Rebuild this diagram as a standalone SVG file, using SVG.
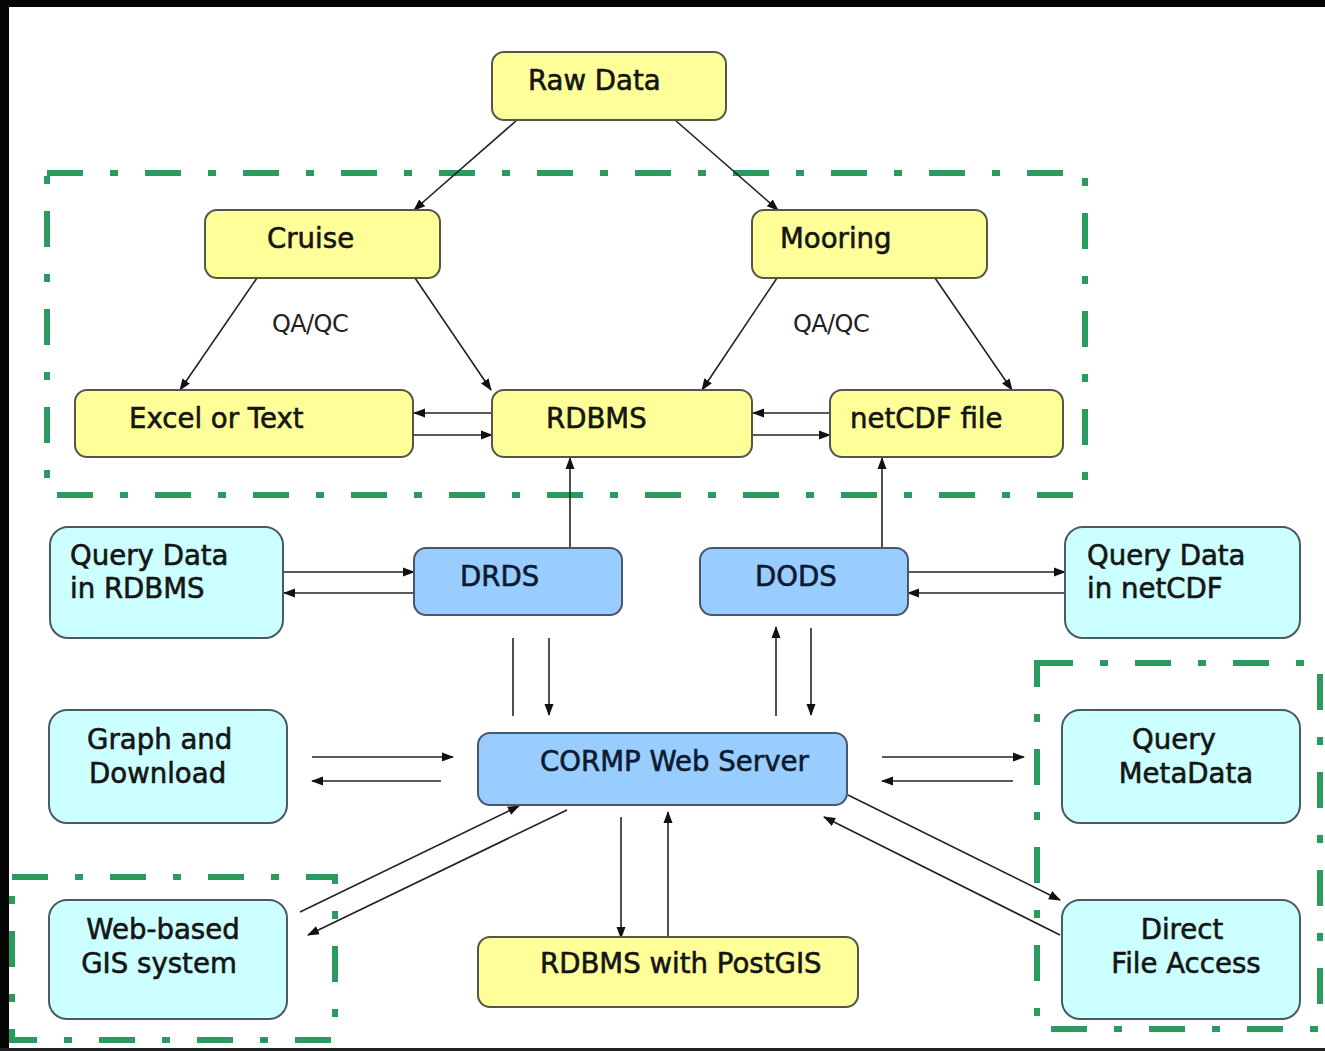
<svg xmlns="http://www.w3.org/2000/svg" width="1325" height="1051" viewBox="0 0 1325 1051">
<style>
.bg{fill:#ffffff}
.frame{fill:#050505}
.grp{fill:none;stroke:#2b9a5e;stroke-width:6;stroke-dasharray:36 27 8 27}
.y{fill:#ffff99;stroke:#55554a;stroke-width:2}
.c{fill:#ccffff;stroke:#4a5a60;stroke-width:2}
.b{fill:#99ccff;stroke:#4a5570;stroke-width:2}
.lbl{font-family:"DejaVu Sans",Verdana,sans-serif;font-size:27.6px;fill:#151515;stroke:#151515;stroke-width:0.6}
.lblb{font-family:"DejaVu Sans",Verdana,sans-serif;font-size:27.6px;fill:#0c1a30;stroke:#0c1a30;stroke-width:0.6}
.qa{font-family:"DejaVu Sans",Verdana,sans-serif;font-size:24px;fill:#222;letter-spacing:-0.6px}
.ln{fill:none;stroke:#222;stroke-width:1.6}
.ar{marker-end:url(#ah)}
</style>
<defs>
<marker id="ah" markerUnits="userSpaceOnUse" markerWidth="12" markerHeight="10" refX="11" refY="5" orient="auto">
<path d="M0,0.5 L12,5 L0,9.5 z" fill="#111"/>
</marker>
</defs>
<rect class="bg" x="0" y="0" width="1325" height="1051"/>
<rect class="frame" x="0" y="0" width="1325" height="7"/>
<rect class="frame" x="0" y="0" width="9" height="1051"/>
<rect x="0" y="1048" width="1325" height="3" fill="#222"/>

<g id="groups">
<rect class="grp" x="47" y="173" width="1038" height="322"/>
<rect class="grp" x="1037" y="663" width="283" height="366"/>
<rect class="grp" x="12" y="877" width="323" height="163"/>
</g>

<g id="connectors">
<line class="ln ar" x1="517" y1="120" x2="414" y2="210"/>
<line class="ln ar" x1="675" y1="120" x2="778" y2="210"/>
<line class="ln ar" x1="257" y1="278" x2="180" y2="390"/>
<line class="ln ar" x1="415" y1="278" x2="491" y2="390"/>
<line class="ln ar" x1="777" y1="278" x2="702" y2="390"/>
<line class="ln ar" x1="935" y1="278" x2="1012" y2="390"/>
<line class="ln ar" x1="492" y1="413" x2="414" y2="413"/>
<line class="ln ar" x1="414" y1="435" x2="492" y2="435"/>
<line class="ln ar" x1="830" y1="413" x2="753" y2="413"/>
<line class="ln ar" x1="753" y1="435" x2="830" y2="435"/>
<line class="ln ar" x1="570" y1="548" x2="570" y2="458"/>
<line class="ln ar" x1="882" y1="548" x2="882" y2="458"/>
<line class="ln ar" x1="284" y1="572" x2="414" y2="572"/>
<line class="ln ar" x1="414" y1="593" x2="284" y2="593"/>
<line class="ln ar" x1="908" y1="572" x2="1065" y2="572"/>
<line class="ln ar" x1="1065" y1="593" x2="908" y2="593"/>
<line class="ln" x1="513" y1="638" x2="513" y2="716"/>
<line class="ln ar" x1="549" y1="638" x2="549" y2="715"/>
<line class="ln ar" x1="776" y1="716" x2="776" y2="627"/>
<line class="ln ar" x1="811" y1="628" x2="811" y2="715"/>
<line class="ln ar" x1="312" y1="757" x2="453" y2="757"/>
<line class="ln ar" x1="441" y1="781" x2="312" y2="781"/>
<line class="ln ar" x1="882" y1="757" x2="1024" y2="757"/>
<line class="ln ar" x1="1013" y1="781" x2="882" y2="781"/>
<line class="ln ar" x1="621" y1="817" x2="621" y2="938"/>
<line class="ln ar" x1="668" y1="937" x2="668" y2="812"/>
<line class="ln ar" x1="848" y1="795" x2="1060" y2="900"/>
<line class="ln ar" x1="1060" y1="935" x2="824" y2="817"/>
<line class="ln ar" x1="300" y1="912" x2="519" y2="806"/>
<line class="ln ar" x1="567" y1="810" x2="308" y2="935"/>
</g>

<g id="qa-labels">
<text class="qa" x="272" y="332">QA/QC</text>
<text class="qa" x="793" y="332">QA/QC</text>
</g>

<g id="raw-data">
<rect class="y" x="492" y="52" width="234" height="68" rx="12"/>
<text class="lbl" x="528" y="90">Raw Data</text>
</g>
<g id="cruise">
<rect class="y" x="205" y="210" width="235" height="68" rx="12"/>
<text class="lbl" x="267" y="248">Cruise</text>
</g>
<g id="mooring">
<rect class="y" x="752" y="210" width="235" height="68" rx="12"/>
<text class="lbl" x="780" y="248">Mooring</text>
</g>
<g id="excel-or-text">
<rect class="y" x="75" y="390" width="338" height="67" rx="12"/>
<text class="lbl" x="129" y="428">Excel or Text</text>
</g>
<g id="rdbms">
<rect class="y" x="492" y="390" width="260" height="67" rx="12"/>
<text class="lbl" x="546" y="428">RDBMS</text>
</g>
<g id="netcdf-file">
<rect class="y" x="830" y="390" width="233" height="67" rx="12"/>
<text class="lbl" x="850" y="428">netCDF file</text>
</g>
<g id="drds">
<rect class="b" x="414" y="548" width="208" height="67" rx="12"/>
<text class="lblb" x="460" y="586">DRDS</text>
</g>
<g id="dods">
<rect class="b" x="700" y="548" width="208" height="67" rx="12"/>
<text class="lblb" x="755" y="586">DODS</text>
</g>
<g id="query-data-rdbms">
<rect class="c" x="50" y="527" width="233" height="111" rx="18"/>
<text class="lbl" x="70" y="565">Query Data</text>
<text class="lbl" x="70" y="598">in RDBMS</text>
</g>
<g id="query-data-netcdf">
<rect class="c" x="1065" y="527" width="235" height="111" rx="18"/>
<text class="lbl" x="1087" y="565">Query Data</text>
<text class="lbl" x="1087" y="598">in netCDF</text>
</g>
<g id="graph-download">
<rect class="c" x="49" y="710" width="238" height="113" rx="18"/>
<text class="lbl" x="87" y="749">Graph and</text>
<text class="lbl" x="89" y="783">Download</text>
</g>
<g id="cormp-web-server">
<rect class="b" x="478" y="733" width="369" height="72" rx="12"/>
<text class="lblb" x="540" y="771">CORMP Web Server</text>
</g>
<g id="query-metadata">
<rect class="c" x="1062" y="710" width="238" height="113" rx="18"/>
<text class="lbl" x="1174" y="749" text-anchor="middle">Query</text>
<text class="lbl" x="1186" y="783" text-anchor="middle">MetaData</text>
</g>
<g id="web-gis">
<rect class="c" x="49" y="900" width="238" height="119" rx="18"/>
<text class="lbl" x="163" y="939" text-anchor="middle">Web-based</text>
<text class="lbl" x="159" y="973" text-anchor="middle">GIS system</text>
</g>
<g id="rdbms-postgis">
<rect class="y" x="478" y="937" width="380" height="70" rx="12"/>
<text class="lbl" x="540" y="973">RDBMS with PostGIS</text>
</g>
<g id="direct-file-access">
<rect class="c" x="1062" y="900" width="238" height="119" rx="18"/>
<text class="lbl" x="1182" y="939" text-anchor="middle">Direct</text>
<text class="lbl" x="1186" y="973" text-anchor="middle">File Access</text>
</g>
</svg>
